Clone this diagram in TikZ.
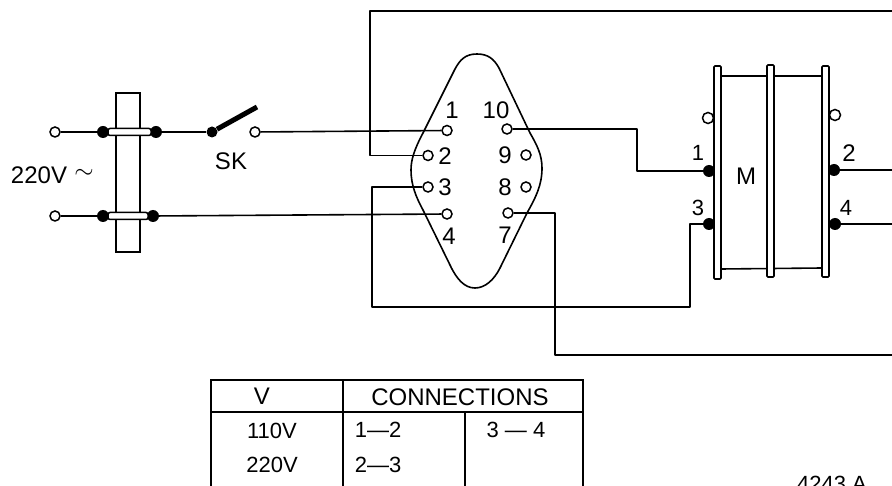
\documentclass[tikz,border=0pt]{standalone}
\usepackage{fontspec}
\setmainfont{Liberation Sans}
\begin{document}
\begin{tikzpicture}[x=1pt,y=-1pt,
  wire/.style={line width=1.6pt,line join=round},
  ring/.style={circle,draw,line width=1.5pt,fill=white,inner sep=0pt,minimum size=10pt},
  dot/.style={circle,fill=black,inner sep=0pt,minimum size=12pt},
  plate/.style={draw,line width=1.7pt,fill=white,rounded corners=1pt},
  strip/.style={draw,line width=1.5pt,fill=white,rounded corners=2pt},
  lab/.style={inner sep=0pt,font=\fontsize{24}{24}\selectfont},
  tlab/.style={inner sep=0pt,font=\fontsize{22}{22}\selectfont}]
\useasboundingbox (0,0) rectangle (892,486);
\fill[white] (0,0) rectangle (892,486);
% coordinates
\coordinate (topR) at (892,11);
\coordinate (topL) at (370,11);
\coordinate (c2) at (370,155.5);
\coordinate (c3a) at (372,187);
\coordinate (c3b) at (372,307);
\coordinate (c3c) at (690,307);
\coordinate (c10) at (637,129);
\coordinate (c7a) at (555,213);
\coordinate (c7b) at (555,355);
\coordinate (c7c) at (892,355);
\coordinate (r2) at (892,170);
\coordinate (r4) at (892,224);
% socket outline
\draw[line width=1.6pt] (477,54)
  .. controls (465,54) and (460,60) .. (455,69)
  -- (423,133) .. controls (414,150) and (411,160) .. (411,170)
  .. controls (411,185) and (416,197) .. (423,210)
  -- (450,265) .. controls (457,280) and (465,288) .. (475,288)
  .. controls (485,288) and (494,280) .. (500,268)
  -- (527,213) .. controls (536,197) and (542,185) .. (542,168)
  .. controls (542,155) and (537,145) .. (530,133)
  -- (499,68) .. controls (494,59) and (488,54) .. (477,54) -- cycle;
% rod
\draw[line width=1.5pt,fill=white] (116,93) rectangle (140,252);
% nodes: terminals
\node[ring] (inA) at (55,132) {};
\node[ring] (inB) at (55,216) {};
\node[dot] (clA1) at (103,132) {};
\node[dot] (clA2) at (156,132) {};
\node[dot] (clB1) at (103,216) {};
\node[dot] (clB2) at (153,216) {};
\node[dot,minimum size=11pt] (swA) at (212,132) {};
\node[ring] (swB) at (255,132) {};
\coordinate (swTip) at (257,107);
\node[ring] (p1) at (447,130.5) {};
\node[ring] (p2) at (428,155.5) {};
\node[ring] (p3) at (428,187) {};
\node[ring] (p4) at (447,214) {};
\node[ring] (p10) at (507,129) {};
\node[ring] (p9) at (526,155) {};
\node[ring] (p8) at (526,187) {};
\node[ring] (p7) at (508,213) {};
\node[dot] (m1) at (709,171) {};
\node[dot] (m3) at (709,224) {};
\node[dot] (m2) at (834,170) {};
\node[dot] (m4) at (835,224) {};
% wires
\draw[wire] (inA) -- (clA1);
\draw[wire] (inB) -- (clB1);
\draw[wire] (clA2) -- (swA);
\draw[wire] (clB2) -- (p4);
\draw[wire] (swB) -- (p1);
\draw[line width=5pt] (swA) -- (swTip);
\draw[wire] (topR) -- (topL) -- (c2) -- (p2);
\draw[wire] (p3) -- (c3a) -- (c3b) -- (c3c) -- (c3c |- m3) -- (m3);
\draw[wire] (p10) -- (c10) -- (c10 |- m1) -- (m1);
\draw[wire] (p7) -- (c7a) -- (c7b) -- (c7c);
\draw[wire] (m2) -- (r2);
\draw[wire] (m4) -- (r4);
% clamps
\draw[strip] (108,128.5) rectangle (151,135.5);
\draw[strip] (108,212.5) rectangle (148,219.5);
% magnet
\draw[line width=1.6pt] (721,76) -- (822,76);
\draw[line width=1.6pt] (721,269) -- (822,268);
\node[ring,minimum size=11pt] (lugL) at (708,118) {};
\node[ring,minimum size=11pt] (lugR) at (835,115) {};
\draw[plate] (714,66) rectangle (721,279);
\draw[plate] (767,65) rectangle (774,277);
\draw[plate] (822,66) rectangle (829,277);
% labels
\node[lab] (t220) at (39,175) {220V};
\node[inner sep=0pt,font=\fontsize{30}{30}\selectfont] (tilde) at (84,174) {$\sim$};
\node[lab] (tSK) at (231,161) {SK};
\node[lab] (l1) at (452,110) {1};
\node[lab] (l10) at (496,110) {10};
\node[lab] (l2) at (445,156) {2};
\node[lab] (l3) at (445,187) {3};
\node[lab] (l4) at (449,236) {4};
\node[lab] (l7) at (505,235) {7};
\node[lab] (l9) at (505,155) {9};
\node[lab] (l8) at (505,187) {8};
\node[tlab] (lm1) at (698,153) {1};
\node[tlab] (lm3) at (698,208) {3};
\node[lab] (lm2) at (849,153) {2};
\node[tlab] (lm4) at (846,208) {4};
\node[lab] (lM) at (746,176) {M};
% table
\draw[line width=1.6pt] (211,486) -- (211,380) -- (583,380) -- (583,486);
\draw[line width=1.6pt] (211,412) -- (583,412);
\draw[line width=1.5pt] (343,380) -- (343,486);
\draw[line width=1.5pt] (465,412) -- (465,486);
\node[lab] (tV) at (262,396) {V};
\node[lab] (tC) at (460,397) {CONNECTIONS};
\node[tlab] (t110) at (272,431) {110V};
\node[tlab] (t12) at (378,430) {1—2};
\node[tlab] (t34) at (516,430) {3 — 4};
\node[tlab] (t2202) at (272,465) {220V};
\node[tlab] (t23) at (378,465) {2—3};
\begin{scope}
\clip (0,0) rectangle (892,486);
\node[tlab] (code) at (832,484) {4243 A};
\end{scope}
\end{tikzpicture}
\end{document}
